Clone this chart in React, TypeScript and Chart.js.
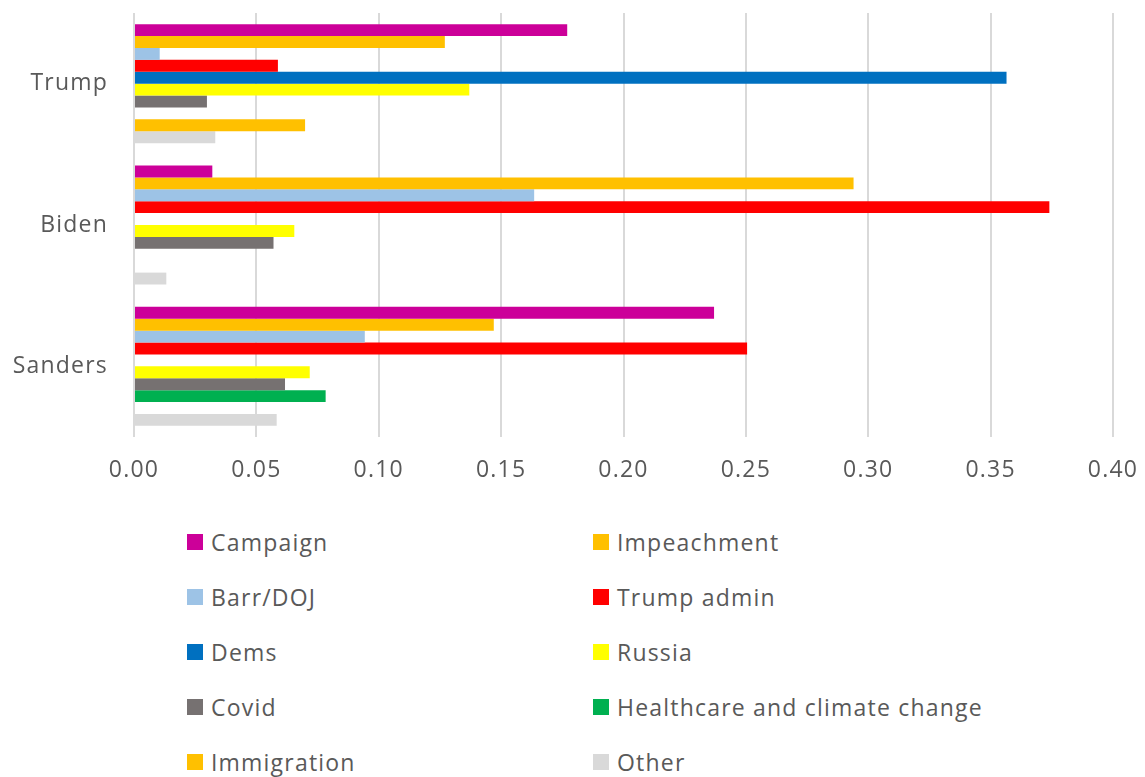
import React, { useEffect, useRef } from "react";
import { Chart, registerables } from "chart.js";

Chart.register(...registerables);

const candidates = ["Trump", "Biden", "Sanders"];

const topics = [
  "Campaign",
  "Impeachment",
  "Barr/DOJ",
  "Trump admin",
  "Dems",
  "Russia",
  "Covid",
  "Healthcare and climate change",
  "Immigration",
  "Other",
];

const topicColors = [
  "#CC0099",
  "#FFC000",
  "#9DC3E6",
  "#FF0000",
  "#0070C0",
  "#FFFF00",
  "#767171",
  "#00B050",
  "#FFC000",
  "#D9D9D9",
];

// share of each topic per candidate: [Trump, Biden, Sanders]
const campaign = [0.177, 0.032, 0.237];
const impeachment = [0.127, 0.294, 0.147];
const barrDoj = [0.0105, 0.1635, 0.0943];
const trumpAdmin = [0.0588, 0.374, 0.2505];
const dems = [0.3565, 0, 0];
const russia = [0.137, 0.0655, 0.0718];
const covid = [0.0298, 0.057, 0.0617];
const healthcareClimate = [0, 0, 0.0783];
const immigration = [0.0699, 0, 0];
const other = [0.0332, 0.0132, 0.0583];

const seriesValues = [
  campaign,
  impeachment,
  barrDoj,
  trumpAdmin,
  dems,
  russia,
  covid,
  healthcareClimate,
  immigration,
  other,
];

const axisTicks = [0, 0.05, 0.1, 0.15, 0.2, 0.25, 0.3, 0.35, 0.4];

const FONT = "'Open Sans', Lato, sans-serif";
const FONT_SIZE = 23;
const TRACKING = "1.2px";
const TEXT_COLOR = "#595959";

// wider tracking for all canvas text
const letterSpacingPlugin = {
  id: "letterSpacing",
  beforeDraw(chart: any) {
    chart.ctx.letterSpacing = TRACKING;
  },
};

export default function App() {
  const canvasRef = useRef<HTMLCanvasElement | null>(null);

  useEffect(() => {
    document.body.style.margin = "0";
    const canvas = canvasRef.current;
    if (!canvas) return;

    const chart = new Chart(canvas, {
      type: "bar",
      data: {
        labels: candidates,
        datasets: topics.map((name, i) => ({
          label: name,
          data: seriesValues[i],
          backgroundColor: topicColors[i],
          borderWidth: 0,
          categoryPercentage: 0.842,
          barPercentage: 1.0,
        })),
      },
      plugins: [letterSpacingPlugin],
      options: {
        indexAxis: "y",
        animation: false,
        responsive: false,
        maintainAspectRatio: false,
        layout: { padding: { top: 13, right: 32, left: 0, bottom: 0 } },
        plugins: {
          legend: { display: false },
          tooltip: { enabled: false },
        },
        scales: {
          x: {
            type: "linear",
            min: 0,
            max: 0.4,
            afterBuildTicks: (scale: any) => {
              scale.ticks = axisTicks.map((v) => ({ value: v }));
            },
            afterFit: (scale: any) => {
              scale.height = 63;
              scale.paddingLeft = 0;
              scale.paddingRight = 0;
            },
            ticks: {
              padding: 20,
              color: TEXT_COLOR,
              font: { family: FONT, size: FONT_SIZE },
              callback: (v: any) => Number(v).toFixed(2),
              maxRotation: 0,
            },
            grid: {
              color: "#d9d9d9",
              lineWidth: 2,
              drawTicks: false,
            },
            border: { display: false },
          },
          y: {
            type: "category",
            afterFit: (scale: any) => {
              scale.width = 134;
              scale.paddingTop = 0;
              scale.paddingBottom = 0;
            },
            ticks: {
              padding: 26,
              color: TEXT_COLOR,
              font: { family: FONT, size: FONT_SIZE },
            },
            grid: { display: false, drawTicks: false },
            border: { display: false },
          },
        },
      },
    });

    return () => {
      chart.destroy();
    };
  }, []);

  const legendLeft = [187, 593];
  const legendTop = 542;
  const legendRow = 55;

  return (
    <div style={{ position: "relative", width: 1145, height: 777, background: "#fff", overflow: "hidden" }}>
      <canvas ref={canvasRef} width={1145} height={500} style={{ position: "absolute", left: 0, top: 0 }} />
      {topics.map((name, i) => {
        const col = i % 2;
        const row = Math.floor(i / 2);
        return (
          <div
            key={name}
            style={{
              position: "absolute",
              left: legendLeft[col],
              top: legendTop + row * legendRow - 15,
              height: 30,
              display: "flex",
              alignItems: "center",
              fontFamily: FONT,
              fontSize: FONT_SIZE,
              letterSpacing: TRACKING,
              color: TEXT_COLOR,
              whiteSpace: "nowrap",
            }}
          >
            <span
              style={{
                display: "inline-block",
                width: 16,
                height: 16,
                background: topicColors[i],
                marginRight: 8,
              }}
            />
            <span>{name}</span>
          </div>
        );
      })}
    </div>
  );
}
